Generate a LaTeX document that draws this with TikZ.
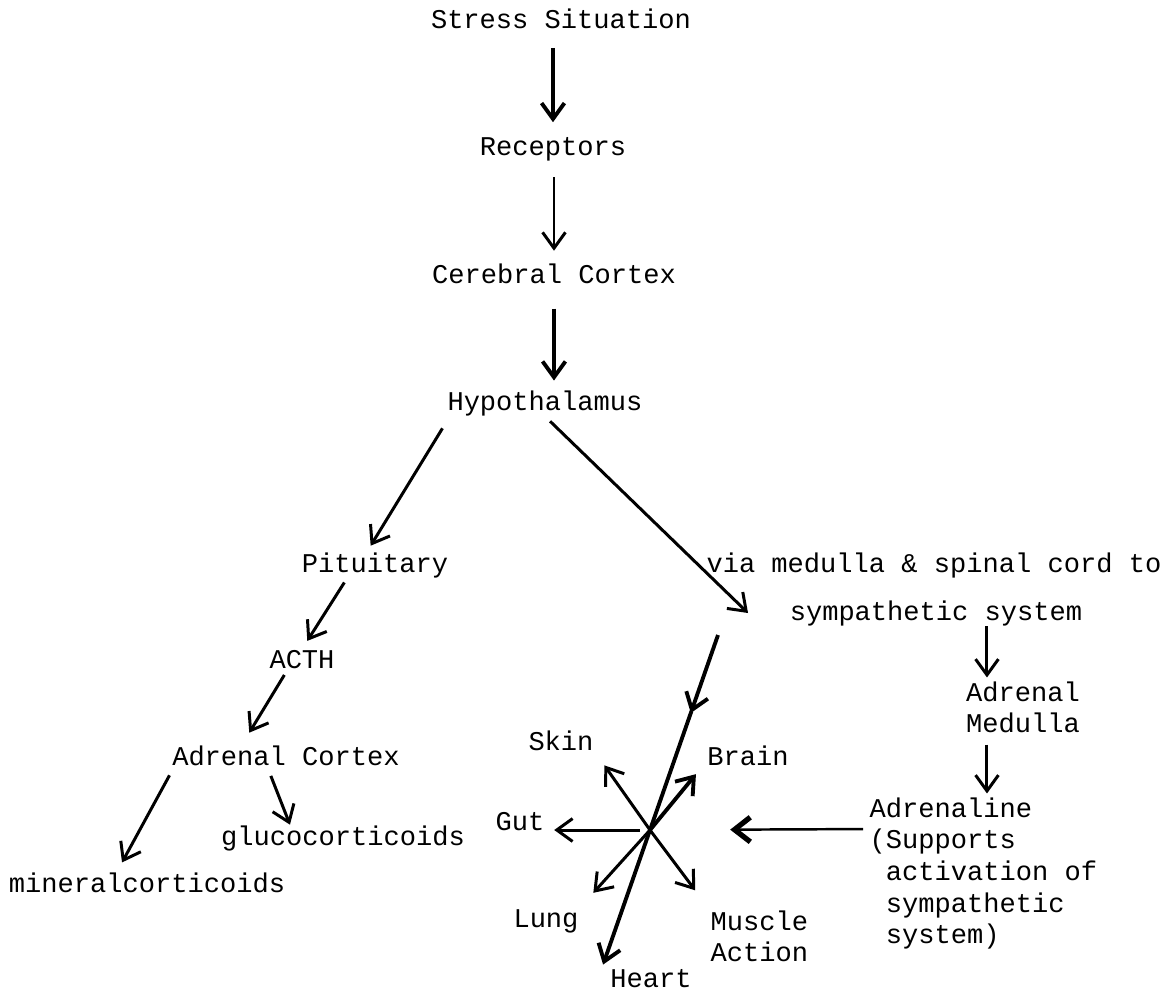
\documentclass[tikz,border=0pt]{standalone}
\usepackage{fontspec}
\setmonofont{Liberation Mono}
\usetikzlibrary{arrows.meta,calc}

\begin{document}
\begin{tikzpicture}[x=0.01cm, y=-0.01cm,
  lbl/.style={font=\ttfamily\fontsize{7.7}{9}\selectfont, inner sep=0pt},
  arr/.style={line width=0.85pt, -{Straight Barb[length=4.5pt,width=6.5pt]}},
  heavy/.style={line width=1.1pt}]
  \useasboundingbox (0,0) rectangle (1169,990);

  %--- Main chain ---
  \node[lbl, anchor=base] (stress) at (561,28) {Stress Situation};
  \node[lbl, anchor=base] (recept) at (553,155) {Receptors};
  \node[lbl, anchor=base] (cortex) at (554,283) {Cerebral Cortex};
  \node[lbl, anchor=base] (hypo) at (545,410) {Hypothalamus};

  \draw[arr, heavy, shorten <=5.4pt, shorten >=4pt] (stress.south -| recept.north) -- (recept.north);
  \draw[arr, shorten <=4.5pt, shorten >=3.4pt] (recept.south -| cortex.north) -- (cortex.north);
  \draw[arr, heavy, shorten <=7pt, shorten >=2.6pt] (cortex.south) -- (cortex.south |- hypo.north);

  %--- Pituitary branch ---
  \node[lbl, anchor=base] (pit) at (375,572) {Pituitary};
  \node[lbl, anchor=base] (acth) at (302,668) {ACTH};
  \node[lbl, anchor=base] (adrc) at (286,765) {Adrenal Cortex};
  \node[lbl, anchor=base] (gluco) at (343,845) {glucocorticoids};
  \node[lbl, anchor=base] (mineral) at (147,892) {mineralcorticoids};

  \draw[arr, shorten <=4pt, shorten >=2pt] ([xshift=0.03cm]hypo.south west) -- ([xshift=-0.08cm]pit.north);
  \draw[arr, shorten <=1.4pt, shorten >=2.8pt] ([xshift=-0.28cm]pit.south) -- (acth.north);
  \draw[arr, shorten <=2pt, shorten >=4pt] ([xshift=-0.14cm]acth.south) -- ([xshift=-0.44cm]adrc.north);
  \draw[arr, shorten <=3pt, shorten >=3pt] ([xshift=0.03cm]adrc.south west) -- ([xshift=-0.3cm]mineral.north);
  \draw[arr, shorten <=3pt] ([xshift=-0.19cm]adrc.south) -- ([xshift=-0.53cm]gluco.north);

  %--- Sympathetic branch ---
  \node[lbl, anchor=base] (via) at (934,572) {via medulla \& spinal cord to};
  \node[lbl, anchor=base] (sym) at (936,620) {sympathetic system};
  \node[lbl, anchor=north, align=center] (admed) at (1023,681) {Adrenal\\Medulla};
  \node[lbl, anchor=north west, align=left] (adrl) at (869,797)
    {Adrenaline\\(Supports\\\phantom{(}activation of\\\phantom{(}sympathetic\\\phantom{(}system)};

  \draw[arr, shorten <=2pt] (hypo.south) -- ([xshift=-0.41cm]sym.west);
  \draw[arr, shorten >=1pt] ([xshift=-0.36cm]admed.north |- sym.south) -- ([xshift=-0.36cm]admed.north);
  \draw[arr, shorten <=3pt, shorten >=1pt] ([xshift=-0.36cm]admed.south) -- ([xshift=-0.36cm]admed.south |- adrl.north);

  %--- Effector star ---
  \coordinate (feed) at (718,635);
  \coordinate (hub) at (650,830);
  \node[lbl, anchor=base] (skin) at (561,750) {Skin};
  \node[lbl, anchor=base] (brain) at (748,765) {Brain};
  \node[lbl, anchor=base] (gut) at (520,830) {Gut};
  \node[lbl, anchor=base] (lung) at (546,927) {Lung};
  \node[lbl, anchor=north west, align=left] (muscle) at (710,910) {Muscle\\Action};
  \node[lbl, anchor=base] (heart) at (651,987) {Heart};

  \draw[arr, heavy] (feed) -- ($(feed)!0.4!(hub)$);
  \draw[heavy] ($(feed)!0.39!(hub)$) -- (hub);
  \draw[arr, heavy] (hub) -- ($(feed)!1.69!(hub)$);
  \draw[arr, shorten >=5pt] (hub) -- (skin.south east);
  \draw[arr, heavy, shorten >=3pt] (hub) -- ([xshift=-0.04cm]brain.south west);
  \draw[arr, shorten <=2.8pt, shorten >=2.6pt] (hub) -- (hub -| gut.east);
  \draw[arr, shorten >=6pt] (hub) -- (lung.north east);
  \draw[arr, shorten >=7pt] (hub) -- (muscle.north west);

  \draw[line width=0.7pt, -{Straight Barb[length=4.5pt,width=7pt,line width=1.5pt]}, shorten <=1.7pt, shorten >=22.8pt]
    ([yshift=-0.32cm]adrl.north west) -- (hub);
\end{tikzpicture}
\end{document}
